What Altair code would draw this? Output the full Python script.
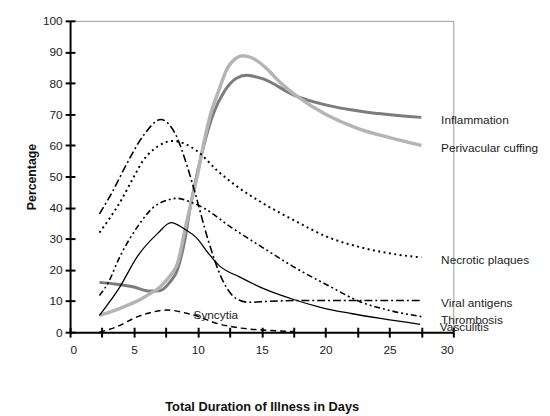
import altair as alt
import pandas as pd

# ---- data ----
names = ["Inflammation", "Perivacular cuffing", "Necrotic plaques",
         "Viral antigens", "Thrombosis", "Vasculitis", "Syncytia"]

inflam_x = [2.3, 3.5, 5.0, 6.2, 7.0, 7.8, 8.4, 9.0, 9.4, 10.0, 10.6, 11.2, 12.1, 13.0, 13.8, 15.0, 17.6, 20.0, 23.0, 27.5]
inflam_y = [16, 15.5, 14.5, 13.2, 13.3, 16, 20, 30, 40, 52, 62, 70, 77.5, 81.5, 82.5, 81.5, 76, 73, 70.8, 69]

peri_x = [2.3, 3.5, 4.4, 5.5, 6.3, 6.9, 7.5, 8.0, 8.4, 9.0, 9.4, 10.0, 10.5, 11.0, 11.6, 12.3, 13.0, 13.5, 14.3, 15.3, 16.5, 17.7, 20.0, 22.5, 25.0, 27.5]
peri_y = [5.4, 7, 8.5, 10.5, 12.5, 14, 16.5, 19, 22, 33, 40.3, 51, 61.4, 70, 77.2, 84.6, 88, 88.8, 88, 85, 80, 76, 70, 65.5, 62.5, 60]

necro_x = [2.3, 3.0, 4.0, 5.0, 5.7, 6.8, 8.0, 9.0, 10.0, 11.5, 13.0, 15.1, 17.5, 20.2, 23.0, 25.5, 27.5]
necro_y = [32, 36, 42.4, 50, 55, 59.5, 61.4, 60.5, 58, 52, 47, 41.4, 36, 30.5, 27, 25, 24]

viral_x = [2.3, 3.3, 4.3, 5.8, 7.1, 8.25, 9.2, 9.8, 10.8, 11.9, 13.0, 14.0, 15.5, 18.0, 22.0, 27.5]
viral_y = [38, 45, 53, 63.5, 68.3, 63.6, 52.9, 44.5, 29.7, 17, 10.8, 9.6, 9.9, 10.2, 10.2, 10.2]

thromb_x = [2.3, 3.0, 3.8, 5.3, 6.5, 7.6, 8.4, 9.3, 10.5, 12.5, 15.3, 17.5, 20.2, 22.7, 25.0, 27.5]
thromb_y = [11.8, 16, 23.4, 34, 40, 42.4, 43, 42, 39.8, 34, 26.6, 21, 15, 9.8, 7, 5]

vasc_x = [2.3, 3.8, 5.3, 6.9, 7.9, 9.0, 9.9, 10.8, 11.7, 13.3, 15.2, 17.5, 19.6, 22.0, 24.3, 27.4]
vasc_y = [5.4, 13.9, 24.5, 31.9, 35.2, 33, 30.3, 25.5, 21.3, 17.7, 13.9, 10.5, 8, 6, 4.4, 2.5]

sync_x = [2.3, 3.5, 5.3, 6.5, 7.6, 9.2, 10.2, 11.2, 13.4, 15.5, 17.5]
sync_y = [0, 1.5, 5, 6.5, 7.1, 6, 4.8, 3.2, 1.3, 0.6, 0.2]

x_ticks = [0, 2.5, 5, 7.5, 10, 12.5, 15, 17.5, 20, 22.5, 25, 27.5, 30]
y_ticks = [0, 10, 20, 30, 40, 50, 60, 70, 80, 90, 100]

series = [(inflam_x, inflam_y), (peri_x, peri_y), (necro_x, necro_y),
          (viral_x, viral_y), (thromb_x, thromb_y), (vasc_x, vasc_y),
          (sync_x, sync_y)]

rows = []
for name, (xs, ys) in zip(names, series):
    for i, (a, b) in enumerate(zip(xs, ys)):
        rows.append({"series": name, "day": a, "pct": b, "order": i})
df = pd.DataFrame(rows)

lab_rows = []
for name, (xs, ys) in zip(names[:-1], series[:-1]):
    lab_rows.append({"series": name, "day": xs[-1], "pct": ys[-1]})
end_labels = pd.DataFrame(lab_rows)
sync_label = pd.DataFrame([{"series": "Syncytia", "day": sync_x[5], "pct": sync_y[5]}])

FONT = "Liberation Sans"
W, H = 389, 316
xscale = alt.Scale(domain=[0, 30], nice=False, zero=False)
yscale = alt.Scale(domain=[0, 100], nice=False)

main_x_axis = alt.Axis(values=x_ticks, labelExpr="datum.value % 5 == 0 ? datum.label : ''",
                       domainColor="black", domainWidth=2, tickColor="black", tickWidth=2,
                       tickSize=5, labelPadding=8, labelFontSize=12, labelColor="#222",
                       labelFont=FONT, grid=False,
                       title="Total Duration of Illness in Days", titleFont=FONT,
                       titleFontSize=13, titleFontWeight="bold", titleColor="#111",
                       titleY=75, titleBaseline="middle")
main_y_axis = alt.Axis(values=y_ticks, domainColor="black", domainWidth=2, tickColor="black",
                       tickWidth=2, tickSize=5, labelPadding=3, labelFontSize=12,
                       labelColor="#222", labelFont=FONT, grid=False,
                       title="Percentage", titleFont=FONT, titleFontSize=12.5,
                       titleFontWeight="bold", titleColor="#111",
                       titleX=-39, titleY=158, titleBaseline="middle", titleAngle=-90)

# inner halves of the crossing ticks: opposite-side axes pulled back onto the main axes
inner_x_axis = alt.Axis(values=x_ticks, orient="top", offset=-H, domain=False, labels=False,
                        tickColor="black", tickWidth=2, tickSize=5, grid=False, title=None)
inner_y_axis = alt.Axis(values=y_ticks, orient="right", offset=-W, domain=False, labels=False,
                        tickColor="black", tickWidth=2, tickSize=5, grid=False, title=None)

styles = {
    "Inflammation": dict(color="#7c7c7c", strokeWidth=3),
    "Perivacular cuffing": dict(color="#b4b4b4", strokeWidth=3.5),
    "Necrotic plaques": dict(color="black", strokeWidth=2, strokeDash=[2, 3.5]),
    "Viral antigens": dict(color="black", strokeWidth=1.6, strokeDash=[8, 3, 2, 3]),
    "Thrombosis": dict(color="black", strokeWidth=1.6, strokeDash=[6, 3, 2, 3, 2, 3]),
    "Vasculitis": dict(color="black", strokeWidth=1.3),
    "Syncytia": dict(color="black", strokeWidth=1.5, strokeDash=[6, 4]),
}

layers = []
for k, name in enumerate(names):
    ax_x = main_x_axis if k == 0 else None
    ax_y = main_y_axis if k == 0 else None
    layers.append(
        alt.Chart(df).transform_filter(alt.datum.series == name)
        .mark_line(interpolate="monotone", **styles[name]).encode(
            x=alt.X("day:Q", scale=xscale, axis=ax_x),
            y=alt.Y("pct:Q", scale=yscale, axis=ax_y),
            order="order:Q",
        )
    )

ticks_layer = alt.Chart(df).mark_point(opacity=0).encode(
    x=alt.X("day:Q", scale=xscale, axis=inner_x_axis),
    y=alt.Y("pct:Q", scale=yscale, axis=inner_y_axis),
)

labels = alt.Chart(end_labels).mark_text(align="left", baseline="middle", dx=20, dy=3,
                                         font=FONT, fontSize=12, color="#222").encode(
    x=alt.X("day:Q", scale=xscale, axis=None),
    y=alt.Y("pct:Q", scale=yscale, axis=None),
    text="series:N",
)

sync_text = alt.Chart(sync_label).mark_text(align="left", baseline="middle", dx=6, dy=2,
                                            font=FONT, fontSize=12, color="#222").encode(
    x=alt.X("day:Q", scale=xscale, axis=None),
    y=alt.Y("pct:Q", scale=yscale, axis=None),
    text="series:N",
)

chart = alt.layer(ticks_layer, *layers, labels, sync_text).resolve_axis(
    x="independent", y="independent"
).properties(
    width=W, height=H,
    autosize=alt.AutoSizeParams(type="none"),
    padding={"left": 63, "top": 10, "right": 90, "bottom": 80},
    background="white",
).configure_view(stroke="#9a9a9a", strokeWidth=1)

chart.save("out.html", embed_options={"renderer": "svg", "actions": False})
